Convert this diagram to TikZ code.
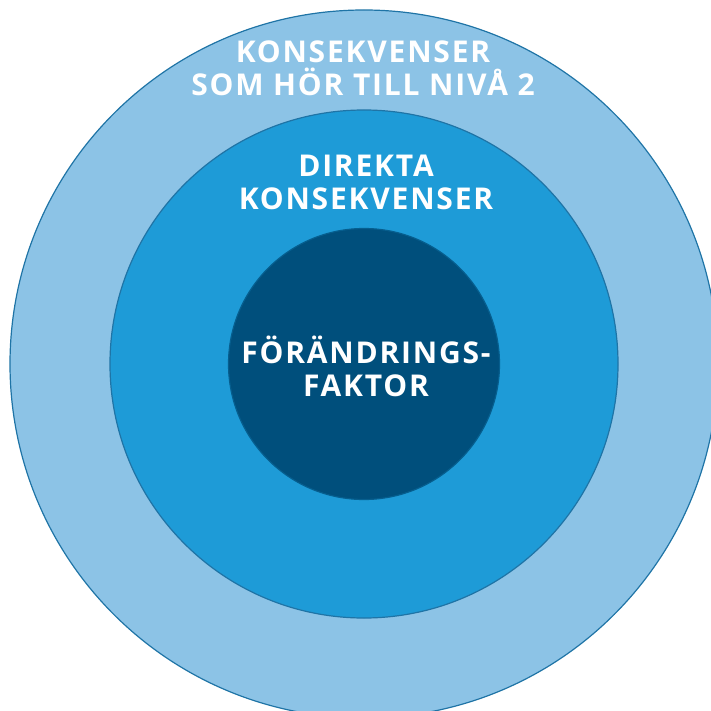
\documentclass[tikz,border=0pt]{standalone}
\usepackage{fontspec}
\setmainfont{Open Sans}[LetterSpace=6]
\definecolor{outerblue}{HTML}{8CC3E6}
\definecolor{midblue}{HTML}{1E9BD7}
\definecolor{coreblue}{HTML}{004F7C}
\definecolor{rimblue}{HTML}{1F74A6}
\begin{document}
\begin{tikzpicture}[x=1pt, y=-1pt,
  ring/.style={circle, draw=rimblue, line width=1.2pt, inner sep=0pt},
  caption/.style={text=white, font=\fontsize{30}{33}\selectfont\bfseries, align=center, anchor=base}]
\useasboundingbox (0,0) rectangle (711,711);
\clip (0,0) rectangle (711,711);
\node[ring, fill=outerblue, minimum size=708pt] (outer) at (364,364) {};
\node[ring, fill=midblue, minimum size=508pt] (middle) at (364,364) {};
\node[ring, fill=coreblue, draw=coreblue!80!midblue, minimum size=271pt] (core) at (364,364) {};
\node[caption] (outerlabel) at (363,96) {KONSEKVENSER\\SOM HÖR TILL NIVÅ 2};
\node[caption] (middlelabel) at (366,210) {DIREKTA\\KONSEKVENSER};
\node[caption] (corelabel) at (366,396) {FÖRÄNDRINGS-\\FAKTOR};
\end{tikzpicture}
\end{document}
